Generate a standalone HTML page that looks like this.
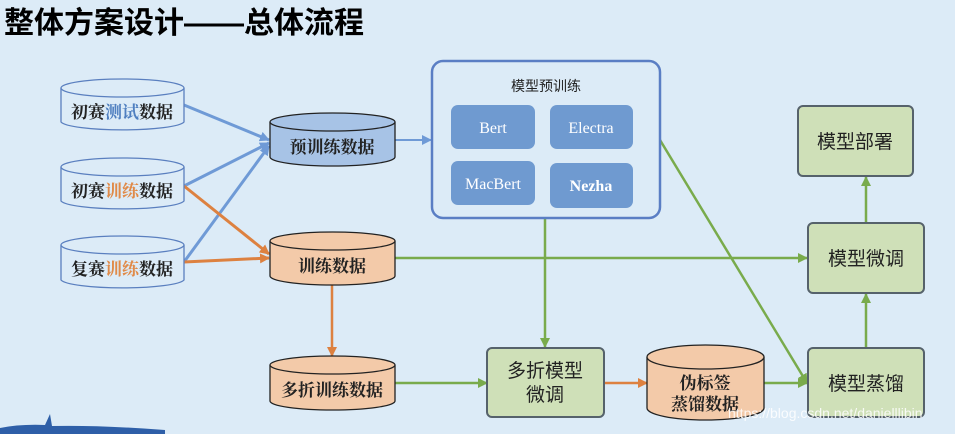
<!DOCTYPE html>
<html><head><meta charset="utf-8"><style>
html,body{margin:0;padding:0;background:#dcebf7;}
svg{display:block;font-family:"Liberation Serif","Noto Serif CJK SC",serif;}
.s{font-family:"Liberation Sans","Noto Sans CJK SC",sans-serif;}
</style></head><body>
<svg width="955" height="434" viewBox="0 0 955 434" xmlns="http://www.w3.org/2000/svg">
<defs>
<marker id="ab" markerWidth="10" markerHeight="10" refX="9" refY="5" orient="auto" markerUnits="userSpaceOnUse"><path d="M0,0 L10,5 L0,10 z" fill="#6f9ad6"/></marker>
<marker id="ao" markerWidth="10" markerHeight="10" refX="9" refY="5" orient="auto" markerUnits="userSpaceOnUse"><path d="M0,0 L10,5 L0,10 z" fill="#dd8140"/></marker>
<marker id="ag" markerWidth="10" markerHeight="10" refX="9" refY="5" orient="auto" markerUnits="userSpaceOnUse"><path d="M0,0 L10,5 L0,10 z" fill="#79ab4c"/></marker>
</defs>
<rect width="955" height="434" fill="#dcebf7"/>
<text x="4" y="33" class="s" font-size="30" font-weight="bold" fill="#000">整体方案设计——总体流程</text>

<g stroke-width="3" fill="none">
<line x1="184" y1="105" x2="269" y2="140" stroke="#6f9ad6" marker-end="url(#ab)"/>
<line x1="184" y1="186" x2="269" y2="143" stroke="#6f9ad6" marker-end="url(#ab)"/>
<line x1="184" y1="262" x2="269" y2="146" stroke="#6f9ad6" marker-end="url(#ab)"/>
<line x1="395" y1="140" x2="431" y2="140" stroke="#6f9ad6" stroke-width="2" marker-end="url(#ab)"/>
<line x1="184" y1="186" x2="269" y2="254" stroke="#dd8140" marker-end="url(#ao)"/>
<line x1="184" y1="262" x2="269" y2="258" stroke="#dd8140" marker-end="url(#ao)"/>
<line x1="332" y1="285" x2="332" y2="356" stroke="#dd8140" stroke-width="2.5" marker-end="url(#ao)"/>
<line x1="604" y1="383" x2="647" y2="383" stroke="#dd8140" stroke-width="2.5" marker-end="url(#ao)"/>
<g stroke="#79ab4c" stroke-width="2.5">
<line x1="395" y1="258" x2="807" y2="258" marker-end="url(#ag)"/>
<line x1="545" y1="218" x2="545" y2="347" marker-end="url(#ag)"/>
<line x1="395" y1="383" x2="487" y2="383" marker-end="url(#ag)"/>
<line x1="764" y1="383" x2="807" y2="383" marker-end="url(#ag)"/>
<line x1="660" y1="140" x2="807" y2="383" marker-end="url(#ag)"/>
<line x1="866" y1="348" x2="866" y2="294" marker-end="url(#ag)"/>
<line x1="866" y1="223" x2="866" y2="177" marker-end="url(#ag)"/>
</g>
</g>

<g stroke="#5a7fbf" stroke-width="1.3" fill="#dcebf7">
<path d="M61,88 V122 A62,9 0 0 0 184,122 V88"/><ellipse cx="122.5" cy="88" rx="61.5" ry="9"/>
<path d="M61,167 V201 A62,9 0 0 0 184,201 V167"/><ellipse cx="122.5" cy="167" rx="61.5" ry="9"/>
<path d="M61,245 V280 A62,9 0 0 0 184,280 V245"/><ellipse cx="122.5" cy="245" rx="61.5" ry="9"/>
</g>
<g font-size="17" font-weight="bold" text-anchor="middle" fill="#222">
<text x="122" y="118">初赛<tspan fill="#4f7fc0">测试</tspan>数据</text>
<text x="122" y="197">初赛<tspan fill="#e08a48">训练</tspan>数据</text>
<text x="122" y="275">复赛<tspan fill="#e08a48">训练</tspan>数据</text>
</g>

<g stroke="#222" stroke-width="1.3">
<path d="M270,122 V157 A62.5,9 0 0 0 395,157 V122" fill="#a7c3e6"/><ellipse cx="332.5" cy="122" rx="62.5" ry="9" fill="#a7c3e6"/>
<path d="M270,241 V276 A62.5,9 0 0 0 395,276 V241" fill="#f3caa9"/><ellipse cx="332.5" cy="241" rx="62.5" ry="9" fill="#f3caa9"/>
<path d="M270,365 V401 A62.5,9 0 0 0 395,401 V365" fill="#f3caa9"/><ellipse cx="332.5" cy="365" rx="62.5" ry="9" fill="#f3caa9"/>
<path d="M647,357 V408 A58.5,12 0 0 0 764,408 V357" fill="#f3caa9"/><ellipse cx="705.5" cy="357" rx="58.5" ry="12" fill="#f3caa9"/>
</g>
<g font-size="17" font-weight="bold" text-anchor="middle" fill="#222">
<text x="332" y="153">预训练数据</text>
<text x="332" y="272">训练数据</text>
<text x="332" y="396">多折训练数据</text>
<text x="705" y="389">伪标签</text>
<text x="705" y="410">蒸馏数据</text>
</g>

<rect x="432" y="61" width="228" height="157" rx="11" fill="#dcebf7" stroke="#5a7ec4" stroke-width="2.5"/>
<text x="546" y="91" class="s" font-size="14" text-anchor="middle" fill="#222">模型预训练</text>
<g fill="#6f9ad0">
<rect x="451" y="105" width="84" height="44" rx="7"/>
<rect x="550" y="105" width="83" height="44" rx="7"/>
<rect x="451" y="161" width="84" height="44" rx="7"/>
<rect x="550" y="163" width="83" height="45" rx="7"/>
</g>
<g font-size="16" text-anchor="middle" fill="#fff">
<text x="493" y="133">Bert</text>
<text x="591" y="133">Electra</text>
<text x="493" y="189">MacBert</text>
<text x="591" y="191" font-weight="bold">Nezha</text>
</g>

<g fill="#cfe0b8" stroke="#56626b" stroke-width="2">
<rect x="798" y="106" width="115" height="70" rx="5"/>
<rect x="808" y="223" width="116" height="70" rx="5"/>
<rect x="808" y="348" width="116" height="69" rx="5"/>
<rect x="487" y="348" width="117" height="69" rx="5"/>
</g>
<g class="s" font-size="19" text-anchor="middle" fill="#222">
<text x="855" y="148">模型部署</text>
<text x="866" y="265">模型微调</text>
<text x="866" y="390">模型蒸馏</text>
<text x="545" y="377">多折模型</text>
<text x="545" y="401">微调</text>
</g>

<text x="728" y="418" class="s" font-size="14" fill="#ffffff" fill-opacity="0.85">https://blog.csdn.net/danielllibin</text>
<path d="M0,434 L0,428 Q20,424 45,425 L50,414 L52,426 Q100,425 165,430 L165,434 Z" fill="#2e5fa8"/>
</svg>
</body></html>
